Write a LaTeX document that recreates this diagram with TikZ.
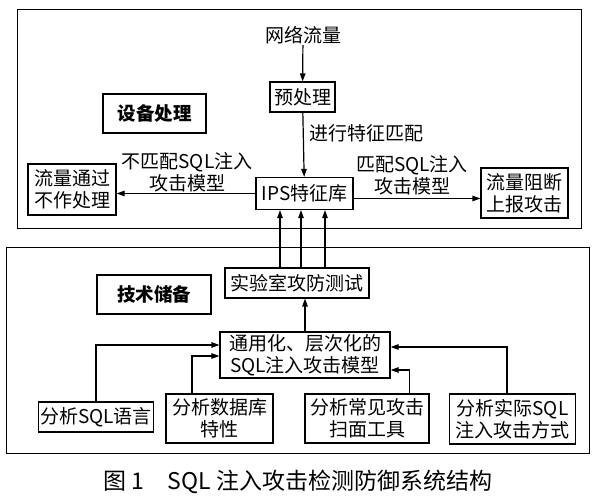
\documentclass[tikz,border=0pt]{standalone}
\usepackage{fontspec}
\setmainfont{Noto Sans CJK SC}
\usetikzlibrary{arrows.meta}

\begin{document}
\begin{tikzpicture}[x=1pt, y=1pt,
    box/.style={draw, line width=1.2pt, inner sep=2pt, align=center, font=\fontsize{19}{22}\selectfont},
    tag/.style={draw, line width=1.2pt, font=\fontsize{18.5}{21}\selectfont\bfseries},
    lbl/.style={align=center, inner sep=1pt, font=\fontsize{19}{22}\selectfont},
    frame/.style={draw, line width=1pt},
    arr/.style={-{Triangle[length=8pt, width=5.5pt]}, line width=1.2pt}]
    \useasboundingbox (0,0) rectangle (599,500);

    % Outer frames
    \draw[frame] (17,271) rectangle (581,490);
    \draw[frame] (6,46) rectangle (589,252);

    % Device part
    \node[lbl] (net) at (303,465) {网络流量};
    \node[box, minimum width=65, minimum height=30] (pre) at (302.5,403) {预处理};
    \node[tag, minimum width=103, minimum height=39] (dev) at (154.5,386.5) {设备处理};
    \node[box, minimum width=97, minimum height=32] (ips) at (304.5,306.5) {IPS特征库};
    \node[box, minimum width=88, minimum height=51] (pass) at (72,310.5) {流量通过\\不作处理};
    \node[box, minimum width=87, minimum height=50] (block) at (524.5,307) {流量阻断\\上报攻击};

    \node[lbl] (match) at (366,367) {进行特征匹配};
    \node[lbl] (nomatch) at (187,328) {不匹配SQL注入\\攻击模型};
    \node[lbl] (hit) at (412,325) {匹配SQL注入\\攻击模型};

    \draw[arr] (net) -- (pre);
    \draw[arr] (pre) -- (ips);
    \draw[arr] (ips.west) -- (ips.west -| pass.east);
    \draw[arr] ([yshift=-5pt]ips.east) -- ([yshift=-5pt]ips.east -| block.west);

    % Technology part
    \node[box, minimum width=144, minimum height=30] (lab) at (297,217) {实验室攻防测试};
    \node[tag, minimum width=114, minimum height=39] (tech) at (154,205.5) {技术储备};
    \node[box, minimum width=170, minimum height=46] (model) at (305,145) {通用化、层次化的\\SQL注入攻击模型};
    \node[box, minimum width=112, minimum height=30] (sql) at (96,83) {分析SQL语言};
    \node[box, minimum width=107, minimum height=49] (db) at (219.5,81.5) {分析数据库\\特性};
    \node[box, minimum width=124, minimum height=49] (scan) at (367,81.5) {分析常见攻击\\扫面工具};
    \node[box, minimum width=126, minimum height=50] (real) at (512.5,81) {分析实际SQL\\注入攻击方式};

    \foreach \dx in {-17,4,28}
        \draw[arr] ([xshift=\dx pt]lab.north) -- ([xshift=\dx pt]lab.north |- ips.south);
    \draw[arr] (model.north) -- (model.north |- lab.south);
    \draw[arr] (sql.north) |- ([yshift=10pt]model.west);
    \draw[arr] ([xshift=-27.5pt]db.north) |- ([yshift=-1pt]model.west);
    \draw[arr] ([xshift=42.5pt]scan.north) |- ([yshift=-15pt]model.east);
    \draw[arr] ([xshift=-5.5pt]real.north) |- ([yshift=8pt]model.east);

    % Caption
    \node[font=\fontsize{23}{26}\selectfont] (cap) at (298,18) {图 1\quad SQL 注入攻击检测防御系统结构};
\end{tikzpicture}
\end{document}
